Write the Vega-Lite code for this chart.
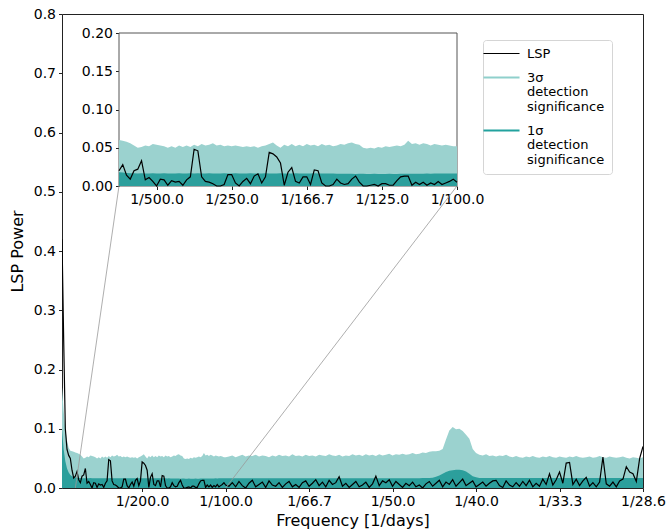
{
  "$schema": "https://vega.github.io/schema/vega-lite/v6.json",
  "width": 581,
  "height": 474,
  "autosize": {"type": "none"},
  "padding": {"left": 62, "top": 14, "right": 27, "bottom": 43},
  "background": "white",
  "config": {
    "font": "DejaVu Sans",
    "view": {"stroke": "#222", "strokeWidth": 1},
    "axis": {"grid": false, "labelColor": "black", "titleColor": "black", "tickColor": "#222", "domainColor": "#222", "titleFontWeight": "normal", "tickSize": 3.5, "labelPadding": 3, "labelFlush": false, "labelOverlap": false}
  },
  "datasets": {
    "conn": [
      {"x1": 0.003614, "y1": 0.5097, "x2": 0.001, "y2": 0},
      {"x1": 0.023859, "y1": 0.5097, "x2": 0.01, "y2": 0}
    ],
    "box": [{"x": 0.001, "x2": 0.01, "y": 0, "y2": 0.2}],
    "lsp": [
      {"f":0.0002,"p":0.42,"a":0.17,"b":0.10},
      {"f":0.0003,"p":0.25,"a":0.13,"b":0.065},
      {"f":0.0004,"p":0.10,"a":0.10,"b":0.045},
      {"f":0.0005,"p":0.065,"a":0.08,"b":0.033},
      {"f":0.0006,"p":0.055,"a":0.068,"b":0.026},
      {"f":0.0007,"p":0.05,"a":0.063,"b":0.022},
      {"f":0.0008,"p":0.03,"a":0.062,"b":0.02},
      {"f":0.0009,"p":0.017,"a":0.061,"b":0.018},
      {"f":0.0010,"p":0.020,"a":0.060,"b":0.0180},
      {"f":0.0011,"p":0.028,"a":0.059,"b":0.0175},
      {"f":0.0012,"p":0.014,"a":0.058,"b":0.0170},
      {"f":0.0013,"p":0.009,"a":0.056,"b":0.0168},
      {"f":0.0014,"p":0.020,"a":0.053,"b":0.0166},
      {"f":0.0015,"p":0.022,"a":0.050,"b":0.0165},
      {"f":0.0016,"p":0.033,"a":0.051,"b":0.0166},
      {"f":0.0017,"p":0.008,"a":0.053,"b":0.0164},
      {"f":0.0018,"p":0.011,"a":0.052,"b":0.0165},
      {"f":0.0019,"p":0.006,"a":0.055,"b":0.0167},
      {"f":0.0020,"p":0.000,"a":0.054,"b":0.0165},
      {"f":0.0021,"p":0.009,"a":0.053,"b":0.0164},
      {"f":0.0022,"p":0.008,"a":0.052,"b":0.0166},
      {"f":0.0023,"p":0.001,"a":0.050,"b":0.0165},
      {"f":0.0024,"p":0.007,"a":0.052,"b":0.0163},
      {"f":0.0025,"p":0.005,"a":0.050,"b":0.0165},
      {"f":0.0026,"p":0.006,"a":0.053,"b":0.0166},
      {"f":0.0027,"p":0.001,"a":0.051,"b":0.0165},
      {"f":0.0028,"p":0.008,"a":0.053,"b":0.0164},
      {"f":0.0029,"p":0.012,"a":0.051,"b":0.0166},
      {"f":0.0030,"p":0.048,"a":0.054,"b":0.0165},
      {"f":0.0031,"p":0.046,"a":0.052,"b":0.0167},
      {"f":0.0032,"p":0.012,"a":0.055,"b":0.0165},
      {"f":0.0033,"p":0.006,"a":0.053,"b":0.0164},
      {"f":0.0034,"p":0.005,"a":0.054,"b":0.0166},
      {"f":0.0035,"p":0.003,"a":0.056,"b":0.0165},
      {"f":0.0036,"p":0.000,"a":0.053,"b":0.0163},
      {"f":0.0037,"p":0.000,"a":0.054,"b":0.0165},
      {"f":0.0038,"p":0.002,"a":0.052,"b":0.0166},
      {"f":0.0039,"p":0.015,"a":0.053,"b":0.0165},
      {"f":0.0040,"p":0.015,"a":0.052,"b":0.0164},
      {"f":0.0041,"p":0.004,"a":0.053,"b":0.0166},
      {"f":0.0042,"p":0.000,"a":0.052,"b":0.0165},
      {"f":0.0043,"p":0.006,"a":0.051,"b":0.0163},
      {"f":0.0044,"p":0.010,"a":0.052,"b":0.0165},
      {"f":0.0045,"p":0.003,"a":0.051,"b":0.0166},
      {"f":0.0046,"p":0.013,"a":0.052,"b":0.0165},
      {"f":0.0047,"p":0.016,"a":0.050,"b":0.0164},
      {"f":0.0048,"p":0.004,"a":0.052,"b":0.0165},
      {"f":0.0049,"p":0.012,"a":0.053,"b":0.0166},
      {"f":0.0050,"p":0.044,"a":0.055,"b":0.0165},
      {"f":0.0051,"p":0.042,"a":0.057,"b":0.0163},
      {"f":0.0052,"p":0.038,"a":0.053,"b":0.0165},
      {"f":0.0053,"p":0.030,"a":0.050,"b":0.0166},
      {"f":0.0054,"p":0.001,"a":0.054,"b":0.0165},
      {"f":0.0055,"p":0.018,"a":0.052,"b":0.0164},
      {"f":0.0056,"p":0.024,"a":0.055,"b":0.0165},
      {"f":0.0057,"p":0.006,"a":0.052,"b":0.0166},
      {"f":0.0058,"p":0.004,"a":0.054,"b":0.0165},
      {"f":0.0059,"p":0.012,"a":0.052,"b":0.0163},
      {"f":0.0060,"p":0.012,"a":0.055,"b":0.0165},
      {"f":0.0061,"p":0.002,"a":0.053,"b":0.0164},
      {"f":0.0062,"p":0.021,"a":0.054,"b":0.0166},
      {"f":0.0063,"p":0.020,"a":0.052,"b":0.0165},
      {"f":0.0064,"p":0.004,"a":0.055,"b":0.0163},
      {"f":0.0065,"p":0.000,"a":0.053,"b":0.0162},
      {"f":0.0066,"p":0.000,"a":0.054,"b":0.0164},
      {"f":0.0067,"p":0.002,"a":0.052,"b":0.0162},
      {"f":0.0068,"p":0.009,"a":0.053,"b":0.0160},
      {"f":0.0069,"p":0.004,"a":0.055,"b":0.0161},
      {"f":0.0070,"p":0.002,"a":0.054,"b":0.0160},
      {"f":0.0071,"p":0.003,"a":0.056,"b":0.0159},
      {"f":0.0072,"p":0.009,"a":0.057,"b":0.0160},
      {"f":0.0073,"p":0.013,"a":0.055,"b":0.0158},
      {"f":0.0074,"p":0.005,"a":0.054,"b":0.0159},
      {"f":0.0075,"p":0.000,"a":0.050,"b":0.0160},
      {"f":0.0076,"p":0.000,"a":0.049,"b":0.0158},
      {"f":0.0077,"p":0.001,"a":0.050,"b":0.0157},
      {"f":0.0078,"p":0.002,"a":0.049,"b":0.0159},
      {"f":0.0079,"p":0.000,"a":0.051,"b":0.0158},
      {"f":0.0080,"p":0.003,"a":0.050,"b":0.0157},
      {"f":0.0081,"p":0.003,"a":0.052,"b":0.0158},
      {"f":0.0082,"p":0.001,"a":0.051,"b":0.0159},
      {"f":0.0083,"p":0.001,"a":0.052,"b":0.0157},
      {"f":0.0084,"p":0.007,"a":0.053,"b":0.0158},
      {"f":0.0085,"p":0.012,"a":0.052,"b":0.0160},
      {"f":0.0086,"p":0.013,"a":0.054,"b":0.0159},
      {"f":0.0087,"p":0.013,"a":0.059,"b":0.0160},
      {"f":0.0088,"p":0.001,"a":0.055,"b":0.0159},
      {"f":0.0089,"p":0.005,"a":0.056,"b":0.0161},
      {"f":0.0090,"p":0.002,"a":0.054,"b":0.0160},
      {"f":0.0091,"p":0.005,"a":0.056,"b":0.0161},
      {"f":0.0092,"p":0.001,"a":0.055,"b":0.0162},
      {"f":0.0093,"p":0.004,"a":0.053,"b":0.0161},
      {"f":0.0094,"p":0.002,"a":0.055,"b":0.0163},
      {"f":0.0095,"p":0.006,"a":0.054,"b":0.0162},
      {"f":0.0096,"p":0.002,"a":0.053,"b":0.0163},
      {"f":0.0097,"p":0.004,"a":0.054,"b":0.0164},
      {"f":0.0098,"p":0.006,"a":0.053,"b":0.0163},
      {"f":0.0099,"p":0.009,"a":0.052,"b":0.0164},
      {"f":0.0100,"p":0.005,"a":0.052,"b":0.0165},
      {"f":0.0102,"p":0.003,"a":0.053,"b":0.0165},
      {"f":0.0104,"p":0.009,"a":0.055,"b":0.0166},
      {"f":0.0106,"p":0.002,"a":0.052,"b":0.0165},
      {"f":0.0108,"p":0.011,"a":0.054,"b":0.0164},
      {"f":0.0110,"p":0.004,"a":0.056,"b":0.0165},
      {"f":0.0112,"p":0.000,"a":0.053,"b":0.0166},
      {"f":0.0114,"p":0.008,"a":0.055,"b":0.0165},
      {"f":0.0116,"p":0.013,"a":0.054,"b":0.0164},
      {"f":0.0118,"p":0.002,"a":0.056,"b":0.0165},
      {"f":0.0120,"p":0.006,"a":0.053,"b":0.0166},
      {"f":0.0122,"p":0.010,"a":0.055,"b":0.0165},
      {"f":0.0124,"p":0.001,"a":0.054,"b":0.0164},
      {"f":0.0126,"p":0.012,"a":0.052,"b":0.0165},
      {"f":0.0128,"p":0.005,"a":0.055,"b":0.0166},
      {"f":0.0130,"p":0.003,"a":0.053,"b":0.0165},
      {"f":0.0132,"p":0.009,"a":0.056,"b":0.0164},
      {"f":0.0134,"p":0.001,"a":0.054,"b":0.0165},
      {"f":0.0136,"p":0.007,"a":0.055,"b":0.0166},
      {"f":0.0138,"p":0.011,"a":0.053,"b":0.0165},
      {"f":0.0140,"p":0.002,"a":0.057,"b":0.0164},
      {"f":0.0142,"p":0.006,"a":0.054,"b":0.0165},
      {"f":0.0144,"p":0.001,"a":0.055,"b":0.0166},
      {"f":0.0146,"p":0.009,"a":0.053,"b":0.0165},
      {"f":0.0148,"p":0.012,"a":0.056,"b":0.0164},
      {"f":0.0150,"p":0.003,"a":0.054,"b":0.0165},
      {"f":0.0152,"p":0.008,"a":0.055,"b":0.0166},
      {"f":0.0154,"p":0.014,"a":0.053,"b":0.0165},
      {"f":0.0156,"p":0.004,"a":0.056,"b":0.0164},
      {"f":0.0158,"p":0.010,"a":0.055,"b":0.0165},
      {"f":0.0160,"p":0.002,"a":0.054,"b":0.0166},
      {"f":0.0162,"p":0.013,"a":0.057,"b":0.0165},
      {"f":0.0164,"p":0.006,"a":0.055,"b":0.0164},
      {"f":0.0166,"p":0.009,"a":0.054,"b":0.0165},
      {"f":0.0168,"p":0.019,"a":0.056,"b":0.0166},
      {"f":0.0170,"p":0.003,"a":0.053,"b":0.0165},
      {"f":0.0172,"p":0.008,"a":0.055,"b":0.0164},
      {"f":0.0174,"p":0.001,"a":0.054,"b":0.0165},
      {"f":0.0176,"p":0.006,"a":0.057,"b":0.0166},
      {"f":0.0178,"p":0.011,"a":0.055,"b":0.0165},
      {"f":0.0180,"p":0.002,"a":0.056,"b":0.0164},
      {"f":0.0182,"p":0.005,"a":0.054,"b":0.0165},
      {"f":0.0184,"p":0.010,"a":0.057,"b":0.0166},
      {"f":0.0186,"p":0.001,"a":0.055,"b":0.0165},
      {"f":0.0188,"p":0.007,"a":0.056,"b":0.0164},
      {"f":0.0190,"p":0.020,"a":0.054,"b":0.0165},
      {"f":0.0192,"p":0.004,"a":0.057,"b":0.0166},
      {"f":0.0194,"p":0.012,"a":0.055,"b":0.0165},
      {"f":0.0196,"p":0.009,"a":0.056,"b":0.0164},
      {"f":0.0198,"p":0.014,"a":0.058,"b":0.0165},
      {"f":0.0200,"p":0.003,"a":0.055,"b":0.0166},
      {"f":0.0202,"p":0.011,"a":0.057,"b":0.0165},
      {"f":0.0204,"p":0.006,"a":0.056,"b":0.0164},
      {"f":0.0206,"p":0.001,"a":0.058,"b":0.0165},
      {"f":0.0208,"p":0.008,"a":0.056,"b":0.0166},
      {"f":0.0210,"p":0.004,"a":0.057,"b":0.0165},
      {"f":0.0212,"p":0.010,"a":0.059,"b":0.0165},
      {"f":0.0214,"p":0.002,"a":0.057,"b":0.0166},
      {"f":0.0216,"p":0.005,"a":0.058,"b":0.0166},
      {"f":0.0218,"p":0.000,"a":0.060,"b":0.0167},
      {"f":0.0220,"p":0.007,"a":0.059,"b":0.0168},
      {"f":0.0222,"p":0.011,"a":0.061,"b":0.0170},
      {"f":0.0224,"p":0.003,"a":0.062,"b":0.0175},
      {"f":0.0226,"p":0.008,"a":0.062,"b":0.0190},
      {"f":0.0228,"p":0.013,"a":0.063,"b":0.0210},
      {"f":0.0230,"p":0.002,"a":0.066,"b":0.0240},
      {"f":0.0232,"p":0.010,"a":0.082,"b":0.0270},
      {"f":0.0234,"p":0.006,"a":0.097,"b":0.0290},
      {"f":0.0236,"p":0.014,"a":0.103,"b":0.0300},
      {"f":0.0238,"p":0.003,"a":0.099,"b":0.0310},
      {"f":0.0240,"p":0.009,"a":0.100,"b":0.0310},
      {"f":0.0242,"p":0.015,"a":0.096,"b":0.0300},
      {"f":0.0244,"p":0.004,"a":0.090,"b":0.0280},
      {"f":0.0246,"p":0.008,"a":0.083,"b":0.0240},
      {"f":0.0248,"p":0.012,"a":0.066,"b":0.0200},
      {"f":0.0250,"p":0.002,"a":0.059,"b":0.0180},
      {"f":0.0252,"p":0.006,"a":0.056,"b":0.0170},
      {"f":0.0254,"p":0.010,"a":0.055,"b":0.0168},
      {"f":0.0256,"p":0.003,"a":0.057,"b":0.0167},
      {"f":0.0258,"p":0.008,"a":0.054,"b":0.0168},
      {"f":0.0260,"p":0.012,"a":0.055,"b":0.0167},
      {"f":0.0262,"p":0.013,"a":0.053,"b":0.0168},
      {"f":0.0264,"p":0.004,"a":0.055,"b":0.0169},
      {"f":0.0266,"p":0.001,"a":0.054,"b":0.0168},
      {"f":0.0268,"p":0.012,"a":0.056,"b":0.0167},
      {"f":0.0270,"p":0.005,"a":0.053,"b":0.0168},
      {"f":0.0272,"p":0.002,"a":0.052,"b":0.0169},
      {"f":0.0274,"p":0.009,"a":0.054,"b":0.0168},
      {"f":0.0276,"p":0.003,"a":0.052,"b":0.0167},
      {"f":0.0278,"p":0.011,"a":0.051,"b":0.0168},
      {"f":0.0280,"p":0.004,"a":0.053,"b":0.0169},
      {"f":0.0282,"p":0.013,"a":0.052,"b":0.0168},
      {"f":0.0284,"p":0.002,"a":0.054,"b":0.0167},
      {"f":0.0286,"p":0.008,"a":0.052,"b":0.0168},
      {"f":0.0288,"p":0.003,"a":0.051,"b":0.0169},
      {"f":0.0290,"p":0.015,"a":0.053,"b":0.0168},
      {"f":0.0292,"p":0.006,"a":0.052,"b":0.0167},
      {"f":0.0294,"p":0.024,"a":0.054,"b":0.0168},
      {"f":0.0296,"p":0.005,"a":0.052,"b":0.0169},
      {"f":0.0298,"p":0.014,"a":0.051,"b":0.0168},
      {"f":0.0300,"p":0.027,"a":0.053,"b":0.0167},
      {"f":0.0302,"p":0.008,"a":0.052,"b":0.0168},
      {"f":0.0304,"p":0.042,"a":0.051,"b":0.0169},
      {"f":0.0306,"p":0.043,"a":0.053,"b":0.0168},
      {"f":0.0308,"p":0.006,"a":0.052,"b":0.0167},
      {"f":0.0310,"p":0.015,"a":0.054,"b":0.0168},
      {"f":0.0312,"p":0.004,"a":0.052,"b":0.0169},
      {"f":0.0314,"p":0.012,"a":0.051,"b":0.0168},
      {"f":0.0316,"p":0.018,"a":0.052,"b":0.0167},
      {"f":0.0318,"p":0.003,"a":0.053,"b":0.0168},
      {"f":0.0320,"p":0.009,"a":0.051,"b":0.0169},
      {"f":0.0322,"p":0.002,"a":0.052,"b":0.0168},
      {"f":0.0324,"p":0.010,"a":0.054,"b":0.0167},
      {"f":0.0326,"p":0.052,"a":0.052,"b":0.0168},
      {"f":0.0328,"p":0.007,"a":0.051,"b":0.0169},
      {"f":0.0330,"p":0.003,"a":0.053,"b":0.0168},
      {"f":0.0332,"p":0.010,"a":0.052,"b":0.0167},
      {"f":0.0334,"p":0.002,"a":0.051,"b":0.0168},
      {"f":0.0336,"p":0.012,"a":0.052,"b":0.0169},
      {"f":0.0338,"p":0.015,"a":0.053,"b":0.0168},
      {"f":0.0340,"p":0.036,"a":0.051,"b":0.0167},
      {"f":0.0342,"p":0.027,"a":0.050,"b":0.0168},
      {"f":0.0344,"p":0.024,"a":0.052,"b":0.0169},
      {"f":0.0346,"p":0.011,"a":0.051,"b":0.0168},
      {"f":0.0348,"p":0.050,"a":0.050,"b":0.0167},
      {"f":0.0350,"p":0.070,"a":0.052,"b":0.0168}
    ]
  },
  "layer": [
    {
      "layer": [
        {
          "data": {"name": "lsp"},
          "mark": {"type": "area", "color": "#9bd2cf", "clip": true},
          "encoding": {
            "x": {"field": "f", "type": "quantitative", "title": "Frequency [1/days]",
              "scale": {"domain": [0.0002, 0.035], "nice": false, "zero": false},
              "axis": {"orient": "bottom", "values": [0.005, 0.01, 0.015, 0.02, 0.025, 0.03, 0.035], "labelExpr": "'1/' + format(1/datum.value, '.1f')", "labelFontSize": 14, "titleFontSize": 16, "titlePadding": 4, "domain": false}},
            "y": {"field": "a", "type": "quantitative", "title": "LSP Power",
              "scale": {"domain": [0, 0.8], "nice": false, "zero": false},
              "axis": {"orient": "left", "values": [0, 0.1, 0.2, 0.3, 0.4, 0.5, 0.6, 0.7, 0.8], "format": ".1f", "labelFontSize": 14, "titleFontSize": 16, "titlePadding": 8, "domain": false}},
            "y2": {"datum": 0}
          }
        },
        {
          "data": {"name": "lsp"},
          "mark": {"type": "area", "color": "#2c9f9c", "clip": true},
          "encoding": {
            "x": {"field": "f", "type": "quantitative", "title": "Frequency [1/days]"},
            "y": {"field": "b", "type": "quantitative", "title": "LSP Power"},
            "y2": {"datum": 0}
          }
        },
        {
          "data": {"name": "lsp"},
          "mark": {"type": "line", "strokeWidth": 1.2, "clip": true},
          "encoding": {
            "x": {"field": "f", "type": "quantitative", "title": "Frequency [1/days]"},
            "y": {"field": "p", "type": "quantitative", "title": "LSP Power"},
            "color": {"datum": "LSP", "type": "nominal",
              "scale": {"domain": ["LSP", "3σ detection significance", "1σ detection significance"], "range": ["black", "#8fd0cc", "#22a29e"]},
              "legend": {"orient": "none", "legendX": 421, "legendY": 26, "title": null, "symbolType": "stroke", "symbolSize": 1300, "symbolStrokeWidth": 2, "symbolOffset": 5, "labelFontSize": 13, "labelColor": "black", "padding": 7, "strokeColor": "#d5d5d5", "fillColor": "white", "cornerRadius": 3, "rowPadding": 10, "labelOffset": 19, "labelLimit": 200,
                "labelExpr": "datum.label == 'LSP' ? 'LSP' : split(datum.label, ' ')",
                "encode": {
                  "symbols": {"update": {"strokeWidth": {"signal": "datum.value === 'LSP' ? 1.2 : 2"}}},
                  "labels": {"update": {"lineHeight": {"value": 14.5}}}
                }}
            }
          }
        },
        {
          "data": {"name": "conn"},
          "mark": {"type": "rule", "color": "#999999", "strokeWidth": 0.8},
          "encoding": {
            "x": {"field": "x1", "type": "quantitative", "title": "Frequency [1/days]"},
            "y": {"field": "y1", "type": "quantitative", "title": "LSP Power"},
            "x2": {"field": "x2"},
            "y2": {"field": "y2"}
          }
        }
      ]
    },
    {
      "layer": [
        {
          "data": {"name": "box"},
          "mark": {"type": "rect", "fill": "white", "stroke": "#555555", "strokeWidth": 1},
          "encoding": {
            "x": {"field": "x", "type": "quantitative",
              "scale": {"domain": [0.001, 0.01], "range": [57, 395], "nice": false, "zero": false},
              "axis": {"orient": "bottom", "offset": -302, "title": null, "values": [0.002, 0.004, 0.006, 0.008, 0.01], "labelExpr": "'1/' + format(1/datum.value, '.1f')", "labelFontSize": 14, "domain": false}},
            "x2": {"field": "x2"},
            "y": {"field": "y", "type": "quantitative",
              "scale": {"domain": [0, 0.2], "range": [172, 19], "nice": false, "zero": false},
              "axis": {"orient": "left", "offset": -57, "title": null, "values": [0, 0.05, 0.1, 0.15, 0.2], "format": ".2f", "labelFontSize": 14, "domain": false}},
            "y2": {"field": "y2"}
          }
        },
        {
          "data": {"name": "lsp"},
          "transform": [{"filter": "datum.f >= 0.001 && datum.f <= 0.01"}],
          "mark": {"type": "area", "color": "#9bd2cf"},
          "encoding": {
            "x": {"field": "f", "type": "quantitative", "title": null},
            "y": {"field": "a", "type": "quantitative", "title": null},
            "y2": {"datum": 0}
          }
        },
        {
          "data": {"name": "lsp"},
          "transform": [{"filter": "datum.f >= 0.001 && datum.f <= 0.01"}],
          "mark": {"type": "area", "color": "#2c9f9c"},
          "encoding": {
            "x": {"field": "f", "type": "quantitative", "title": null},
            "y": {"field": "b", "type": "quantitative", "title": null},
            "y2": {"datum": 0}
          }
        },
        {
          "data": {"name": "lsp"},
          "transform": [{"filter": "datum.f >= 0.001 && datum.f <= 0.01"}],
          "mark": {"type": "line", "color": "black", "strokeWidth": 1.2},
          "encoding": {
            "x": {"field": "f", "type": "quantitative", "title": null},
            "y": {"field": "p", "type": "quantitative", "title": null}
          }
        }
      ]
    }
  ],
  "resolve": {
    "scale": {"x": "independent", "y": "independent"},
    "axis": {"x": "independent", "y": "independent"}
  }
}
